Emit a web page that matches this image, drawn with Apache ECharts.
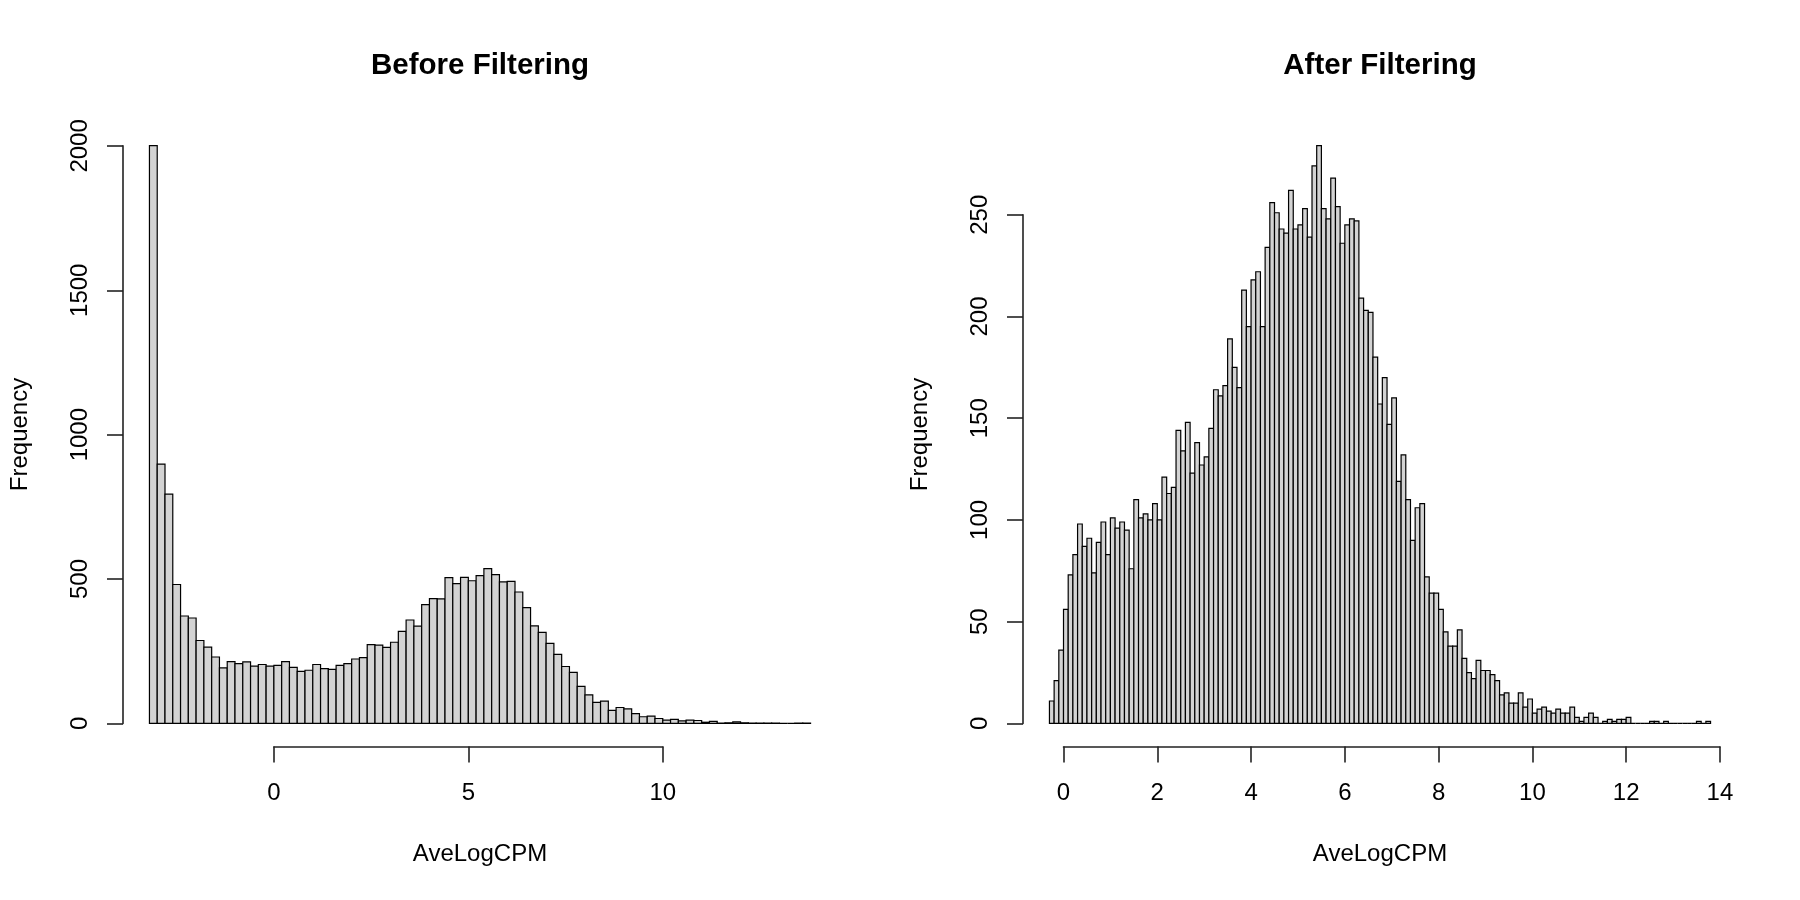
<!DOCTYPE html>
<html>

<head>
	<meta charset="utf-8" />
	<title>AveLogCPM</title>
	<script src="https://cdn.jsdelivr.net/npm/echarts@6/dist/echarts.min.js"></script>
	<style>
		html, body { margin: 0; padding: 0; background: #fff; }
		#main { width: 1800px; height: 900px; }
	</style>
</head>

<body>
	<div id="main"></div>
	<script type="text/javascript">
		// Before Filtering: bins of 0.2 starting at -3.2
		var beforeStart = -3.2;
		var beforeBin = 0.2;
		var beforeCounts = [2001, 898, 794, 481, 372, 365, 287, 264, 230, 192,
			214, 207, 213, 198, 204, 198, 201, 214, 194, 180,
			184, 204, 190, 187, 201, 207, 223, 228, 273, 271,
			263, 281, 319, 358, 337, 411, 432, 431, 505, 484,
			506, 494, 512, 536, 515, 490, 492, 455, 401, 338,
			315, 277, 239, 197, 177, 128, 99, 73, 77, 45,
			55, 50, 34, 23, 25, 17, 11, 14, 9, 11,
			10, 4, 7, 1, 2, 5, 2, 1, 1, 1,
			1, 0, 0, 1, 1];
		var beforeXTicks = [0, 5, 10];
		var beforeYTicks = [0, 500, 1000, 1500, 2000];

		// After Filtering: bins of 0.1 starting at -0.3
		var afterStart = -0.3;
		var afterBin = 0.1;
		var afterCounts = [11, 21, 36, 56, 73, 83, 98, 87, 91, 74,
			89, 99, 83, 101, 96, 99, 95, 76, 110, 101,
			103, 100, 108, 100, 121, 113, 116, 144, 134, 148,
			123, 138, 127, 131, 145, 164, 161, 166, 189, 175,
			165, 213, 195, 218, 222, 195, 234, 256, 251, 243,
			241, 262, 243, 245, 253, 239, 274, 284, 253, 248,
			268, 254, 236, 245, 248, 247, 209, 203, 202, 180,
			157, 170, 147, 160, 119, 132, 110, 90, 106, 108,
			72, 64, 64, 56, 45, 38, 38, 46, 32, 25,
			22, 31, 26, 26, 24, 21, 14, 15, 10, 10,
			15, 8, 12, 5, 7, 8, 6, 5, 7, 5,
			5, 8, 3, 1, 3, 5, 3, 0, 1, 2,
			1, 2, 2, 3, 0, 0, 0, 0, 1, 1,
			0, 1, 0, 0, 0, 0, 0, 0, 1, 0,
			1];
		var afterXTicks = [0, 2, 4, 6, 8, 10, 12, 14];
		var afterYTicks = [0, 50, 100, 150, 200, 250];

		var FONT = 'Liberation Sans, Arial, sans-serif';
		var PLOT_TOP = 122.5;
		var PLOT_W = 714;
		var PLOT_H = 624;

		var option = {
			animation: false,
			backgroundColor: '#fff',
			title: [],
			grid: [],
			xAxis: [],
			yAxis: [],
			series: []
		};

		function plain(v) {
			return String(v);
		}

		function histItem(params, api) {
			var p0 = api.coord([api.value(0), api.value(2)]);
			var p1 = api.coord([api.value(1), 0]);
			return {
				type: 'rect',
				shape: { x: p0[0], y: p0[1], width: p1[0] - p0[0], height: p1[1] - p0[1] },
				style: { fill: '#d3d3d3', stroke: '#000', lineWidth: 1.2 }
			};
		}

		function hiddenAxis(idx, min, max) {
			return {
				type: 'value', gridIndex: idx, min: min, max: max,
				axisLine: { show: false, onZero: false }, axisTick: { show: false },
				axisLabel: { show: false }, splitLine: { show: false }
			};
		}

		function addPanel(titleText, plotLeft, start, bin, counts, xTicks, yTicks) {
			var base = option.grid.length;
			// R style limits: bin range and 0..max, each stretched by 4%
			var xa = start, xb = start + counts.length * bin;
			var xmin = xa - 0.04 * (xb - xa), xmax = xb + 0.04 * (xb - xa);
			var top = Math.max.apply(null, counts);
			var ymin = -0.04 * top, ymax = 1.04 * top;
			var ppx = PLOT_W / (xmax - xmin);
			var ppy = PLOT_H / (ymax - ymin);

			var data = [];
			for (var i = 0; i < counts.length; i++) {
				var x0 = +(start + i * bin).toFixed(4);
				var x1 = +(start + (i + 1) * bin).toFixed(4);
				data.push([x0, x1, counts[i]]);
			}

			var yTop = yTicks[yTicks.length - 1];
			var x0t = xTicks[0], x1t = xTicks[xTicks.length - 1];

			// plot region
			option.grid.push({ left: plotLeft, top: PLOT_TOP, width: PLOT_W, height: PLOT_H });
			// y axis, from 0 to last tick
			option.grid.push({ left: plotLeft, top: PLOT_TOP + (ymax - yTop) * ppy, width: PLOT_W, height: yTop * ppy });
			// x axis, from first to last tick
			option.grid.push({ left: plotLeft + (x0t - xmin) * ppx, top: PLOT_TOP, width: (x1t - x0t) * ppx, height: PLOT_H });

			var xName = hiddenAxis(base, xmin, xmax);
			xName.name = 'AveLogCPM';
			xName.nameLocation = 'middle';
			xName.nameGap = 96;
			xName.nameTextStyle = { fontSize: 24, color: '#000', fontFamily: FONT };
			var yName = hiddenAxis(base, ymin, ymax);
			yName.name = 'Frequency';
			yName.nameLocation = 'middle';
			yName.nameGap = 91;
			yName.nameTextStyle = { fontSize: 24, color: '#000', fontFamily: FONT };
			option.xAxis.push(xName);
			option.yAxis.push(yName);

			option.xAxis.push(hiddenAxis(base + 1, 0, 1));
			option.yAxis.push({
				type: 'value', gridIndex: base + 1, min: 0, max: yTop, interval: yTicks[1] - yTicks[0],
				axisLine: { show: true, onZero: false, lineStyle: { color: '#222', width: 1.6 } },
				axisTick: { show: true, length: 16, lineStyle: { color: '#222', width: 1.6 } },
				axisLabel: { rotate: 90, margin: 31, fontSize: 24, color: '#000', fontFamily: FONT, formatter: plain },
				splitLine: { show: false }
			});

			option.xAxis.push({
				type: 'value', gridIndex: base + 2, min: x0t, max: x1t, interval: xTicks[1] - xTicks[0],
				axisLine: { show: true, onZero: false, lineStyle: { color: '#222', width: 1.6 } },
				axisTick: { show: true, length: 16, lineStyle: { color: '#222', width: 1.6 } },
				axisLabel: { margin: 35, fontSize: 24, color: '#000', fontFamily: FONT, formatter: plain },
				splitLine: { show: false }
			});
			option.yAxis.push(hiddenAxis(base + 2, 0, 1));

			option.series.push({
				type: 'custom',
				xAxisIndex: base,
				yAxisIndex: base,
				renderItem: histItem,
				encode: { x: [0, 1], y: 2 },
				data: data
			});

			option.title.push({
				text: titleText,
				left: plotLeft + PLOT_W / 2 - 5,
				top: 46,
				textAlign: 'center',
				textStyle: { fontSize: 29.5, fontWeight: 'bold', color: '#000', fontFamily: FONT }
			});
		}

		addPanel('Before Filtering', 123, beforeStart, beforeBin, beforeCounts, beforeXTicks, beforeYTicks);
		addPanel('After Filtering', 1023, afterStart, afterBin, afterCounts, afterXTicks, afterYTicks);

		var myChart = echarts.init(document.getElementById('main'));
		myChart.setOption(option);
	</script>
</body>

</html>
